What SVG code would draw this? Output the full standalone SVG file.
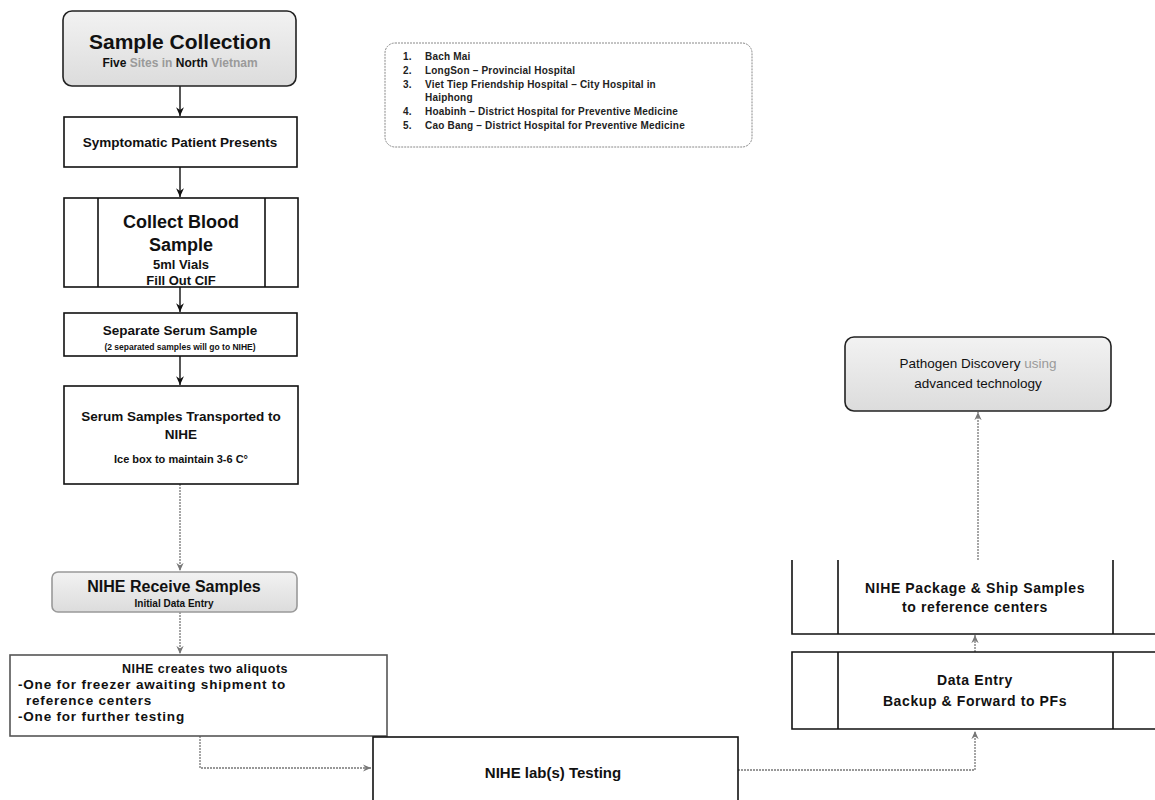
<svg xmlns="http://www.w3.org/2000/svg" width="1155" height="800" viewBox="0 0 1155 800">
<style>
text{font-family:"Liberation Sans",Arial,sans-serif;fill:#111;font-weight:bold}
.box{fill:#fff;stroke:#111;stroke-width:1.6}
.rbox{fill:url(#g);stroke:#222;stroke-width:1.6}
.leg{fill:#fff;stroke:#888;stroke-width:1;stroke-dasharray:2 1}
.c{font-size:13px;text-anchor:middle}
.l{font-size:10px;fill:#222;letter-spacing:0.2px}
.con{fill:none;stroke:#111;stroke-width:1.4}
.con2{fill:none;stroke:#777;stroke-width:1.3;stroke-dasharray:2 1}
.gray{fill:#9a9a9a}
.r{font-size:14px;letter-spacing:0.6px}
.al{font-size:13.5px;letter-spacing:0.8px}
</style>
<defs>
<linearGradient id="g" x1="0" y1="0" x2="0" y2="1"><stop offset="0" stop-color="#f2f2f2"/><stop offset="1" stop-color="#dcdcdc"/></linearGradient>
<marker id="a" viewBox="0 0 10 10" refX="9" refY="5" markerWidth="7" markerHeight="7" orient="auto"><path d="M0,1 L9,5 L0,9 L3,5 z" fill="#111"/></marker>
<marker id="a2" viewBox="0 0 10 10" refX="9" refY="5" markerWidth="7" markerHeight="7" orient="auto"><path d="M0,1 L9,5 L0,9 L3,5 z" fill="#777"/></marker>
</defs>
<g id="connectors">
<line class="con" x1="180" y1="86" x2="180" y2="116" marker-end="url(#a)"/>
<line class="con" x1="180" y1="167" x2="180" y2="197" marker-end="url(#a)"/>
<line class="con" x1="180" y1="287" x2="180" y2="312" marker-end="url(#a)"/>
<line class="con" x1="180" y1="356" x2="180" y2="385" marker-end="url(#a)"/>
<line class="con2" x1="180" y1="484" x2="180" y2="571" marker-end="url(#a2)"/>
<line class="con2" x1="180" y1="612" x2="180" y2="654" marker-end="url(#a2)"/>
<polyline class="con2" points="200,736 200,768 371,768" marker-end="url(#a2)"/>
<polyline class="con2" points="738,770 975,770 975,731" marker-end="url(#a2)"/>
<line class="con2" x1="975" y1="652" x2="975" y2="635" marker-end="url(#a2)"/>
<line class="con2" x1="978" y1="560" x2="978" y2="412" marker-end="url(#a2)"/>
</g>
<g id="n-sample-collection">
<rect class="rbox" x="63" y="11" width="233" height="75" rx="9"/>
<text x="180" y="49" style="font-size:21px;text-anchor:middle">Sample Collection</text>
<text x="180" y="67" class="c" style="font-size:12px">Five <tspan class="gray">Sites in</tspan> North <tspan class="gray">Vietnam</tspan></text>
</g>
<g id="n-legend">
<rect class="leg" x="385" y="43" width="367" height="104" rx="10"/>
<text class="l" x="403" y="60">1.</text><text class="l" x="425" y="60">Bach Mai</text>
<text class="l" x="403" y="74">2.</text><text class="l" x="425" y="74">LongSon – Provincial Hospital</text>
<text class="l" x="403" y="88">3.</text><text class="l" x="425" y="88">Viet Tiep Friendship Hospital – City Hospital in</text>
<text class="l" x="425" y="101">Haiphong</text>
<text class="l" x="403" y="115">4.</text><text class="l" x="425" y="115">Hoabinh – District Hospital for Preventive Medicine</text>
<text class="l" x="403" y="129">5.</text><text class="l" x="425" y="129">Cao Bang – District Hospital for Preventive Medicine</text>
</g>
<g id="n-symptomatic">
<rect class="box" x="64" y="117" width="233" height="50"/>
<text class="c" x="180" y="147" style="font-size:13.5px">Symptomatic Patient Presents</text>
</g>
<g id="n-collect-blood">
<rect class="box" x="64" y="198" width="234" height="89"/>
<line class="box" x1="98" y1="198" x2="98" y2="287"/>
<line class="box" x1="265" y1="198" x2="265" y2="287"/>
<text class="c" x="181" y="228" style="font-size:18px">Collect Blood</text>
<text class="c" x="181" y="251" style="font-size:18px">Sample</text>
<text class="c" x="181" y="269" style="font-size:13px">5ml Vials</text>
<text class="c" x="181" y="285" style="font-size:13px">Fill Out CIF</text>
</g>
<g id="n-separate">
<rect class="box" x="64" y="313" width="233" height="43"/>
<text class="c" x="180" y="335" style="font-size:13.5px">Separate Serum Sample</text>
<text class="c" x="180" y="350" style="font-size:8.5px">(2 separated samples will go to NIHE)</text>
</g>
<g id="n-transported">
<rect class="box" x="64" y="386" width="234" height="98"/>
<text class="c" x="181" y="421" style="font-size:13.5px">Serum Samples Transported to</text>
<text class="c" x="181" y="439" style="font-size:13.5px">NIHE</text>
<text class="c" x="181" y="463" style="font-size:11px">Ice box to maintain 3-6 C°</text>
</g>
<g id="n-receive">
<rect class="rbox" x="52" y="572" width="245" height="40" rx="6" style="stroke:#999"/>
<text class="c" x="174" y="592" style="font-size:16px">NIHE Receive Samples</text>
<text class="c" x="174" y="607" style="font-size:10px">Initial Data Entry</text>
</g>
<g id="n-aliquots">
<rect class="box" x="10" y="655" width="377" height="81" style="stroke:#555"/>
<text class="c" x="205" y="673" style="font-size:12.5px;letter-spacing:0.5px">NIHE creates two aliquots</text>
<text class="al" x="18" y="689">-One for freezer awaiting shipment to</text>
<text class="al" x="26" y="705">reference centers</text>
<text class="al" x="18" y="721">-One for further testing</text>
</g>
<g id="n-lab">
<rect class="box" x="373" y="737" width="365" height="80"/>
<text class="c" x="553" y="778" style="font-size:15px">NIHE lab(s) Testing</text>
</g>
<g id="n-pathogen">
<rect class="rbox" x="845" y="337" width="266" height="74" rx="9"/>
<text class="c" x="978" y="368" style="font-weight:normal;font-size:13.5px">Pathogen Discovery <tspan class="gray">using</tspan></text>
<text class="c" x="978" y="388" style="font-weight:normal;font-size:13.5px">advanced technology</text>
</g>
<g id="n-package">
<path class="box" d="M792,560 V634 H1155 M838,560 V634 M1113,560 V634" style="fill:none"/>
<text class="c r" x="975" y="593">NIHE Package &amp; Ship Samples</text>
<text class="c r" x="975" y="612">to reference centers</text>
</g>
<g id="n-dataentry">
<path class="box" d="M1155,652 H792 V729 H1155 M838,652 V729 M1113,652 V729" style="fill:none"/>
<text class="c r" x="975" y="685">Data Entry</text>
<text class="c r" x="975" y="706">Backup &amp; Forward to PFs</text>
</g>
</svg>
